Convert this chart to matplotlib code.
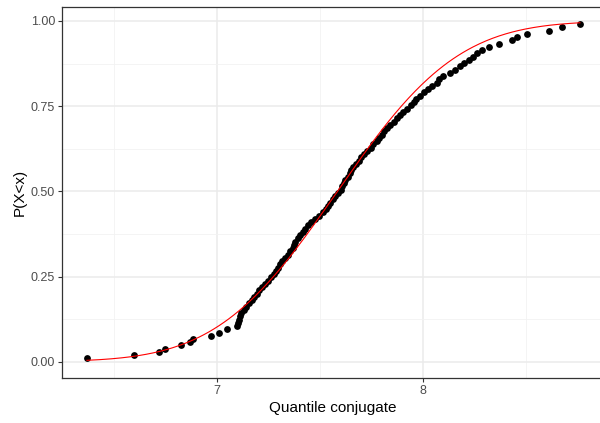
import numpy as np
import matplotlib
matplotlib.use("Agg")
import matplotlib.pyplot as plt
from math import erf, sqrt

# Sorted sample of the conjugate quantile (n = 104)
quantile_values = [
    6.369, 6.597, 6.718, 6.748, 6.824, 6.869, 6.885, 6.969, 7.011, 7.047,
    7.096, 7.100, 7.107, 7.113, 7.119, 7.131, 7.143, 7.158, 7.172, 7.182,
    7.193, 7.205, 7.218, 7.232, 7.247, 7.262, 7.275, 7.285, 7.295, 7.304,
    7.318, 7.330, 7.343, 7.356, 7.368, 7.373, 7.380, 7.393, 7.405, 7.418,
    7.430, 7.443, 7.458, 7.475, 7.495, 7.513, 7.528, 7.539, 7.550, 7.562,
    7.574, 7.588, 7.602, 7.609, 7.615, 7.621, 7.634, 7.645, 7.653, 7.662,
    7.675, 7.688, 7.700, 7.715, 7.730, 7.746, 7.760, 7.775, 7.788, 7.800,
    7.813, 7.826, 7.842, 7.858, 7.873, 7.888, 7.905, 7.925, 7.940, 7.955,
    7.968, 7.985, 8.005, 8.024, 8.045, 8.066, 8.080, 8.097, 8.130, 8.155,
    8.180, 8.200, 8.225, 8.242, 8.261, 8.288, 8.322, 8.371, 8.431, 8.455,
    8.507, 8.613, 8.675, 8.762,
]

# Fitted normal distribution parameters
fit_mean = 7.585
fit_sd = 0.46

x_ticks = [7, 8]
x_tick_labels = ["7", "8"]
y_ticks = [0.0, 0.25, 0.5, 0.75, 1.0]
y_tick_labels = ["0.00", "0.25", "0.50", "0.75", "1.00"]

x = np.array(quantile_values)
n = len(x)
p = np.arange(1, n + 1) / (n + 1)

xs = np.linspace(x.min(), x.max(), 300)
cdf = np.array([0.5 * (1 + erf((v - fit_mean) / (fit_sd * sqrt(2)))) for v in xs])

plt.rcParams["font.family"] = ["Liberation Sans", "DejaVu Sans"]

fig = plt.figure(figsize=(6.0, 4.23), dpi=100)
ax = fig.add_axes([62 / 600, 1 - 378 / 423, 542 / 600, 371 / 423])

ax.set_xlim(6.248, 8.879)
ax.set_ylim(-0.0478, 1.041)

# grid: major and minor lines as in a bw theme
ax.set_xticks(x_ticks)
ax.set_xticklabels(x_tick_labels)
ax.set_yticks(y_ticks)
ax.set_yticklabels(y_tick_labels)
ax.set_xticks([6.5, 7.5, 8.5], minor=True)
ax.set_yticks([0.125, 0.375, 0.625, 0.875], minor=True)
ax.grid(which="major", color="#ebebeb", linewidth=1.1)
ax.grid(which="minor", color="#f2f2f2", linewidth=0.6)
ax.tick_params(which="minor", length=0)
ax.tick_params(which="major", length=3, width=0.8, color="#333333",
               labelsize=9, labelcolor="#4d4d4d", pad=2)
ax.set_axisbelow(True)

for s in ax.spines.values():
    s.set_color("#333333")
    s.set_linewidth(0.9)

ax.scatter(x, p, s=24, color="black", zorder=3, linewidths=0)
ax.plot(xs, cdf, color="red", linewidth=0.8, zorder=4)

ax.set_xlabel("Quantile conjugate", fontsize=11, color="black", labelpad=3)
ax.set_ylabel("P(X<x)", fontsize=11, color="black", labelpad=3)

fig.savefig("out.png", dpi=100, facecolor="white")
